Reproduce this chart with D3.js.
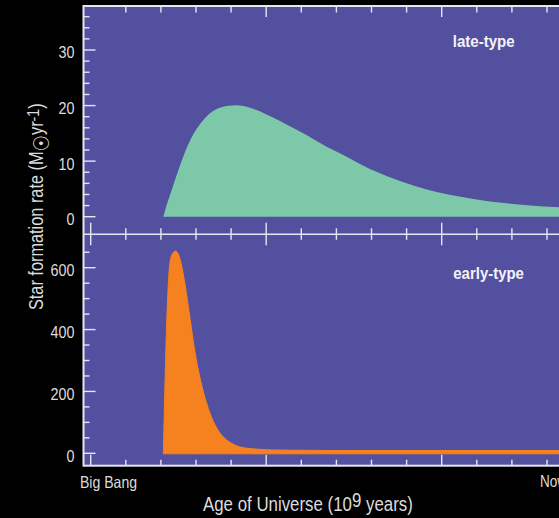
<!DOCTYPE html>
<html><head><meta charset="utf-8">
<script src="https://cdn.jsdelivr.net/npm/d3@7"></script>
<style>
html,body{margin:0;padding:0;background:#000;}
svg{display:block;}
text{font-family:"Liberation Sans",Arial,sans-serif;}
</style></head>
<body>
<svg id="chart" width="559" height="518"></svg>
<script>
// ---- data (time in 10^9 years since Big Bang, SFR in Msun/yr) ----
const lateTime = [2.07, 2.16, 2.26, 2.45, 2.69, 2.92, 3.21, 3.49, 3.87, 4.16, 4.54, 5.01, 5.58, 6.15, 6.72, 7.10, 7.67, 8.24, 9.00, 9.95, 10.90, 11.85, 12.80, 13.34, 13.7];
const lateSFR  = [0, 2.0, 3.9, 7.5, 11.7, 14.8, 17.4, 19.0, 19.9, 20.05, 19.6, 18.4, 16.6, 14.7, 12.6, 11.4, 9.5, 7.8, 6.0, 4.3, 3.2, 2.4, 1.9, 1.7, 1.6];
const earlyTime = [2.07, 2.10, 2.12, 2.16, 2.21, 2.26, 2.33, 2.42, 2.54, 2.69, 2.83, 2.97, 3.16, 3.35, 3.54, 3.73, 4.02, 4.30, 4.68, 5.16, 5.82, 7.0, 9.0, 11.0, 13.7];
const earlySFR  = [0, 150, 242, 404, 544, 619, 645, 654, 630, 544, 436, 328, 221, 145, 92, 59, 32, 19.4, 14, 11, 10, 9, 9, 9, 9];
const topTicksMajor = [0, 10, 20, 30];
const bottomTicksMajor = [0, 200, 400, 600];
const panelLabels = ["late-type", "early-type"];
const xEndLabels = ["Big Bang", "Now"];

const svg = d3.select("#chart");
const L = 83.5, R = 571, T = 6, MID = 234.3, B = 465.7;
const x = d3.scaleLinear().domain([0, 13.7]).range([90.7, 90.7 + 13.7 * 35.1]);
const yTop = d3.scaleLinear().domain([0, 30]).range([216.7, 50]);
const yBot = d3.scaleLinear().domain([0, 600]).range([453.3, 267.7]);

const bg = "#5350a0", axisCol = "#e6e6f2", labCol = "#dcdcdc";

// horizontally condense a text element about its anchor x
function condense(sel, ax, s) {
  sel.attr("transform", `translate(${ax},0) scale(${s},1) translate(${-ax},0)`);
}
function fitWidth(sel, ax, w) {
  const bw = sel.node().getComputedTextLength();
  condense(sel, ax, w / bw);
}

svg.append("rect").attr("x", L).attr("y", T).attr("width", R - L).attr("height", B - T).attr("fill", bg);

const defs = svg.append("defs");
defs.append("clipPath").attr("id", "cTop").append("rect").attr("x", L).attr("y", T).attr("width", R - L).attr("height", MID - T);
defs.append("clipPath").attr("id", "cBot").append("rect").attr("x", L).attr("y", MID).attr("width", R - L).attr("height", B - MID);

const lateData = lateTime.map((t, i) => [t, lateSFR[i]]);
const earlyData = earlyTime.map((t, i) => [t, earlySFR[i]]);

svg.append("path").attr("clip-path", "url(#cTop)")
  .attr("d", d3.area().x(d => x(d[0])).y0(yTop(0)).y1(d => yTop(d[1])).curve(d3.curveMonotoneX)(lateData))
  .attr("fill", "#7dc8a8");

svg.append("path").attr("clip-path", "url(#cBot)")
  .attr("d", d3.area().x(d => x(d[0])).y0(yBot(0) + 0.5).y1(d => yBot(d[1])).curve(d3.curveMonotoneX)(earlyData))
  .attr("fill", "#f5821f").attr("stroke", "#f5821f").attr("stroke-width", 1);

// ---- y axes (left & right) ----
function yTicks(scale, values, isMajor, top, bottom) {
  values.forEach(v => {
    const yy = scale(v);
    if (yy < top + 1 || yy > bottom - 1) return;
    const len = isMajor(v) ? 12 : 6;
    svg.append("line").attr("x1", L).attr("x2", L + len).attr("y1", yy).attr("y2", yy)
      .attr("stroke", axisCol).attr("stroke-width", 1.4);
    svg.append("line").attr("x1", R).attr("x2", R - len).attr("y1", yy).attr("y2", yy)
      .attr("stroke", axisCol).attr("stroke-width", 1.4);
  });
}
yTicks(yTop, d3.range(0, 37, 2), v => v % 10 === 0, T, MID);
yTicks(yBot, d3.range(0, 651, 50), v => v % 200 === 0, MID, B);

function tickLabels(scale, vals) {
  vals.forEach(v => {
    const t = svg.append("text").attr("x", 74.5).attr("y", scale(v) + 8.4)
      .attr("text-anchor", "end").attr("fill", labCol).attr("font-size", 17.3).text(v);
    condense(t, 74.5, 0.83);
  });
}
tickLabels(yTop, topTicksMajor);
tickLabels(yBot, bottomTicksMajor);

// ---- x ticks ----
const xt = d3.range(0, 14, 1);
xt.forEach(t => {
  const xx = x(t);
  if (xx > R - 1) return;
  const major = t % 5 === 0;
  if (t !== 0) svg.append("line").attr("x1", xx).attr("x2", xx).attr("y1", T).attr("y2", T + (major ? 11 : 6.5))
    .attr("stroke", axisCol).attr("stroke-width", 1.4);
  svg.append("line").attr("x1", xx).attr("x2", xx).attr("y1", MID - (major ? 11.5 : 6)).attr("y2", MID + (major ? 11 : 5.5))
    .attr("stroke", axisCol).attr("stroke-width", 1.4);
  svg.append("line").attr("x1", xx).attr("x2", xx).attr("y1", B - (major ? 11 : 6)).attr("y2", B)
    .attr("stroke", axisCol).attr("stroke-width", 1.4);
});

// ---- frame ----
svg.append("rect").attr("x", L).attr("y", T).attr("width", R - L).attr("height", B - T)
  .attr("fill", "none").attr("stroke", axisCol).attr("stroke-width", 2);
svg.append("line").attr("x1", L).attr("x2", R).attr("y1", MID).attr("y2", MID)
  .attr("stroke", axisCol).attr("stroke-width", 1.6);

// ---- panel labels ----
const pl1 = svg.append("text").attr("x", 452.7).attr("y", 46.7).text(panelLabels[0])
  .attr("fill", "#f2f2f8").attr("font-weight", "bold").attr("font-size", 16.5);
fitWidth(pl1, 452.7, 62);
const pl2 = svg.append("text").attr("x", 453.3).attr("y", 279).text(panelLabels[1])
  .attr("fill", "#f2f2f8").attr("font-weight", "bold").attr("font-size", 16.5);
fitWidth(pl2, 453.3, 70.7);

// ---- x end labels ----
const bb = svg.append("text").attr("x", 80).attr("y", 488).text(xEndLabels[0])
  .attr("fill", labCol).attr("font-size", 16.3);
fitWidth(bb, 80, 57);
const nw = svg.append("text").attr("x", 540).attr("y", 487.5).text(xEndLabels[1])
  .attr("fill", labCol).attr("font-size", 16.3);
condense(nw, 540, 0.83);

// ---- axis titles ----
const xt1 = svg.append("text").attr("x", 203).attr("y", 510.7)
  .attr("fill", labCol).attr("font-size", 19.5)
  .call(t => {
    t.append("tspan").text("Age of Universe (10");
    t.append("tspan").attr("dy", -4).text("9");
    t.append("tspan").attr("dy", 4).text(" years)");
  });
fitWidth(xt1, 203, 210);

const yg = svg.append("g").attr("transform", "translate(43.3,206.7) rotate(-90)");
const yl = yg.append("text").attr("x", 0).attr("y", 0).attr("text-anchor", "middle")
  .attr("fill", labCol).attr("font-size", 19.5)
  .call(t => {
    t.append("tspan").text("Star formation rate (M");
    t.append("tspan").attr("dy", 6).attr("font-size", 22).style("font-family", "DejaVu Sans").text("\u2609");
    t.append("tspan").attr("dy", -6).text("yr");
    t.append("tspan").attr("dy", -4.5).attr("font-size", 17).text("-1");
    t.append("tspan").attr("dy", 4.5).text(")");
  });
fitWidth(yl, 0, 207);
</script>
</body></html>
